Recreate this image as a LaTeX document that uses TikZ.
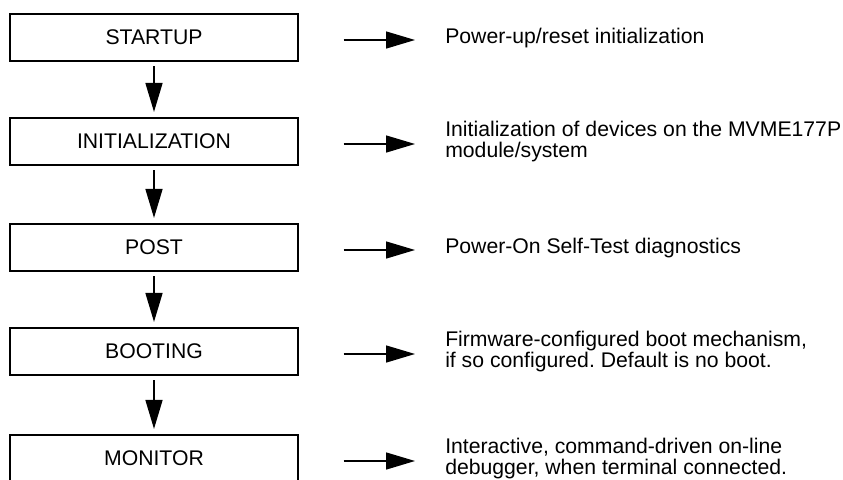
\documentclass[tikz,border=0pt]{standalone}
\usepackage{fontspec}
\setmainfont{Liberation Sans}
\frenchspacing
\usetikzlibrary{positioning,calc,arrows.meta}

\begin{document}
\begin{tikzpicture}[x=0.75pt, y=0.75pt,
    stage/.style={draw, line width=1.1pt, minimum width=216pt, minimum height=35.25pt,
        inner sep=0pt, font=\fontsize{15.9}{15.5}\selectfont},
    note/.style={anchor=west, align=left, inner sep=0pt, font=\fontsize{15.9}{15.5}\selectfont},
    flow/.style={line width=1.1pt, -{Triangle[length=21.75pt, width=12.75pt]}}]
    \useasboundingbox (0,0) rectangle (843,-479);

    % Stages
    \node[stage] (startup) at (154,-37.5) {STARTUP};
    \node[stage] (init) at (154,-141.5) {INITIALIZATION};
    \node[stage] (post) at (154,-247.5) {POST};
    \node[stage] (boot) at (154,-351.5) {BOOTING};
    \node[stage] (mon) at (154,-458.5) {MONITOR};

    % Notes
    \node[note] (nstartup) at (445,-38.5) {Power-up/reset initialization};
    \node[note] (ninit) at (445,-141.5) {Initialization of devices on the MVME177P\\module/system};
    \node[note] (npost) at (445,-248.5) {Power-On Self-Test diagnostics};
    \node[note] (nboot) at (445,-351.5) {Firmware-configured boot mechanism,\\if so configured. Default is no boot.};
    \node[note] (nmon) at (445,-458.5) {Interactive, command-driven on-line\\debugger, when terminal connected.};

    % Downward arrows
    \draw[flow, shorten <=3.5pt, shorten >=4pt] (startup) -- (init);
    \draw[flow, shorten <=3.5pt, shorten >=4pt] (init) -- (post);
    \draw[flow, shorten <=3.5pt, shorten >=4pt] (post) -- (boot);
    \draw[flow, shorten <=3.5pt, shorten >=4pt] (boot) -- (mon);

    % Side arrows
    \foreach \n in {startup,init,post,boot,mon} {
        \coordinate (a\n) at ($(\n.east)+(45,-2.5)$);
        \draw[flow, shorten >=22.5pt] (a\n) -- (a\n -| n\n.west);
    }
\end{tikzpicture}
\end{document}
